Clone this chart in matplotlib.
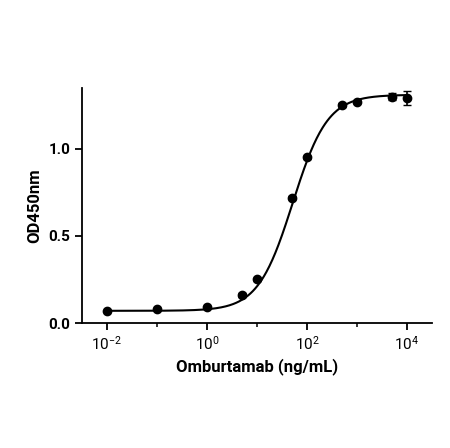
import numpy as np
import matplotlib
matplotlib.use("Agg")
import matplotlib.pyplot as plt
from matplotlib.ticker import LogLocator, NullFormatter

conc = [0.01, 0.1, 1, 5, 10, 50, 100, 500, 1000, 5000, 10000]
od = [0.07, 0.08, 0.09, 0.16, 0.25, 0.72, 0.95, 1.25, 1.27, 1.30, 1.29]
err = [0, 0, 0, 0.01, 0.01, 0.01, 0.01, 0.01, 0.01, 0.02, 0.04]
# 4PL fit parameters
bottom, top, ec50, hill = 0.07, 1.31, 52.0, 1.25

plt.rcParams['font.family'] = ['Roboto', 'DejaVu Sans']
fig = plt.figure(figsize=(4.5, 4.48), dpi=100)
ax = fig.add_axes([0.182, 0.279, 0.778, 0.525])
xs = np.logspace(-2, 4, 400)
ax.plot(xs, bottom + (top - bottom) / (1 + (ec50 / xs) ** hill), color='black', lw=1.5)
ax.errorbar(conc, od, yerr=err, fmt='o', color='black', ms=6, capsize=3, elinewidth=1.2)
ax.set_xscale('log')
ax.set_xlim(10 ** -2.5, 10 ** 4.5)
ax.set_ylim(0, 1.35)
ax.set_xticks([1e-2, 1e0, 1e2, 1e4])
ax.xaxis.set_minor_locator(LogLocator(base=10, subs=[1.0], numticks=20))
ax.xaxis.set_minor_formatter(NullFormatter())
ax.set_yticks([0, 0.5, 1.0])
ax.set_yticklabels(['0.0', '0.5', '1.0'])
for lab in ax.get_xticklabels() + ax.get_yticklabels():
    lab.set_fontweight('bold')
ax.tick_params(labelsize=11, width=1.3, length=5)
ax.tick_params(which='minor', width=1.1, length=3)
ax.spines['top'].set_visible(False)
ax.spines['right'].set_visible(False)
for s in ['left', 'bottom']:
    ax.spines[s].set_linewidth(1.3)
ax.spines['bottom'].set_position(('outward', 0))
ax.set_xlabel('Omburtamab (ng/mL)', fontsize=12, fontweight='bold')
ax.set_ylabel('OD450nm', fontsize=12, fontweight='bold')
fig.savefig('out.png', dpi=100)
